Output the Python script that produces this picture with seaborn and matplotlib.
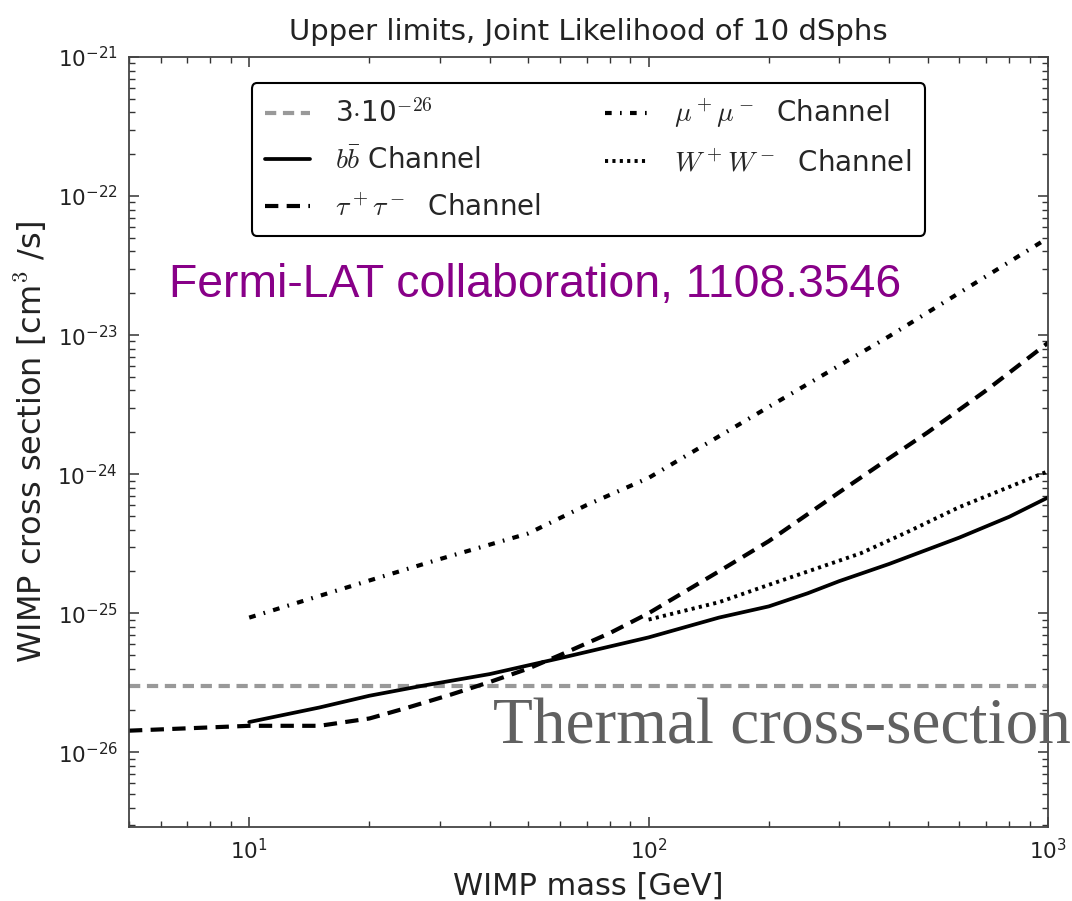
import matplotlib
matplotlib.use("Agg")
import matplotlib.pyplot as plt
import numpy as np
import pandas as pd
import seaborn as sns
from matplotlib.ticker import FixedLocator, LogLocator, NullFormatter

# --- upper limits on <sigma v> from the joint likelihood of 10 dSphs ---
thermal_xsec = 3e-26

mass_bb = [10, 15, 20, 27, 40, 60, 100, 150, 200, 250, 300, 400, 600,
           800, 1000]
xsec_bb = [1.65e-26, 2.1e-26, 2.55e-26, 3.0e-26, 3.65e-26, 4.75e-26,
           6.7e-26, 9.3e-26, 1.12e-25, 1.39e-25, 1.7e-25, 2.26e-25,
           3.5e-25, 4.94e-25, 6.8e-25]

mass_tau = [5, 10, 15, 20, 25, 32, 40, 50, 60, 80, 100, 150, 200, 300,
            400, 500, 700, 1000]
xsec_tau = [1.43e-26, 1.55e-26, 1.55e-26, 1.75e-26, 2.1e-26, 2.6e-26,
            3.2e-26, 4.0e-26, 5.0e-26, 7.2e-26, 1.0e-25, 2.0e-25,
            3.3e-25, 7.4e-25, 1.3e-24, 2.0e-24, 4.0e-24, 8.8e-24]

mass_mu = [10, 20, 30, 50, 70, 100, 200, 400, 700, 1000]
xsec_mu = [9.3e-26, 1.72e-25, 2.45e-25, 3.75e-25, 6.0e-25, 9.4e-25,
           3.05e-24, 9.8e-24, 2.65e-23, 5.0e-23]

mass_ww = [100, 150, 200, 340, 450, 600, 800, 1000]
xsec_ww = [9.0e-26, 1.2e-25, 1.6e-25, 2.7e-25, 3.9e-25, 5.8e-25,
           8.1e-25, 1.05e-24]

labels = [r"3$\cdot$10$^{-26}$", r"$b\bar{b}$ Channel",
          r"$\tau^+\tau^-$  Channel", r"$\mu^+\mu^-$  Channel",
          r"$W^+W^-$  Channel"]

x_major = [10, 100, 1000]
y_major = [1e-26, 1e-25, 1e-24, 1e-23, 1e-22, 1e-21]

sns.set_style("ticks")
plt.rcParams["font.family"] = ["DejaVu Sans"]
plt.rcParams["mathtext.fontset"] = "cm"
plt.rcParams["axes.unicode_minus"] = False

fig = plt.figure(figsize=(10.72, 9.01), dpi=100)
ax = fig.add_axes([0.1203, 0.0821, 0.8573, 0.8546])
ax.set_xscale("log")
ax.set_yscale("log")

ax.axhline(thermal_xsec, color="#999999", lw=3.0,
           linestyle=(0, (2.7, 1.6)), label=labels[0])
sns.lineplot(x=mass_bb, y=xsec_bb, ax=ax, color="black", lw=2.7,
             linestyle="-", label=labels[1])
sns.lineplot(x=mass_tau, y=xsec_tau, ax=ax, color="black", lw=3.0,
             linestyle=(0, (3.2, 2.0)), label=labels[2])
sns.lineplot(x=mass_mu, y=xsec_mu, ax=ax, color="black", lw=3.0,
             linestyle=(0, (1.6, 2.0, 0.4, 2.0)), label=labels[3])
sns.lineplot(x=mass_ww, y=xsec_ww, ax=ax, color="black", lw=2.8,
             linestyle=(0, (0.8, 1.1)), label=labels[4])

ax.set_xlim(5, 1000)
ax.set_ylim(2.9e-27, 1e-21)

ax.xaxis.set_major_locator(FixedLocator(x_major))
ax.yaxis.set_major_locator(FixedLocator(y_major))
ax.xaxis.set_minor_locator(LogLocator(base=10, subs=np.arange(2, 10), numticks=20))
ax.yaxis.set_minor_locator(LogLocator(base=10, subs=np.arange(2, 10), numticks=20))
ax.xaxis.set_minor_formatter(NullFormatter())
ax.yaxis.set_minor_formatter(NullFormatter())

ax.tick_params(which="both", direction="in", top=True, right=True,
               colors="#333333", labelcolor="#222222")
ax.tick_params(which="major", length=7, width=1.1, labelsize=15.5, pad=8)
ax.tick_params(which="minor", length=4, width=1.0)
for sp in ax.spines.values():
    sp.set_linewidth(1.3)
    sp.set_color("#444444")

ax.set_title("Upper limits, Joint Likelihood of 10 dSphs", fontsize=21,
             pad=12, color="#222222")
ax.set_xlabel("WIMP mass [GeV]", fontsize=22, color="#222222", labelpad=6)
ax.set_ylabel(r"WIMP cross section [cm$^3$ /s]", fontsize=23,
              color="#222222", labelpad=6)

leg = ax.legend(loc="upper center", bbox_to_anchor=(0.5, 0.966), ncol=2,
                fontsize=20, handlelength=1.6, handletextpad=0.9,
                columnspacing=2.3, labelspacing=0.68, borderpad=0.5,
                borderaxespad=0, frameon=True, fancybox=True, framealpha=1)
leg.get_frame().set_edgecolor("black")
leg.get_frame().set_linewidth(1.5)

ax.text(0.0435, 0.688, "Fermi-LAT collaboration, 1108.3546",
        transform=ax.transAxes, fontsize=33.4, color="#880088",
        family="Liberation Sans", va="baseline", ha="left")

fig.text(0.46, 0.175, "Thermal cross-section", fontsize=47,
         color="#606060", family="Liberation Serif", va="baseline", ha="left")

fig.savefig("out.png", dpi=100, facecolor="white")
